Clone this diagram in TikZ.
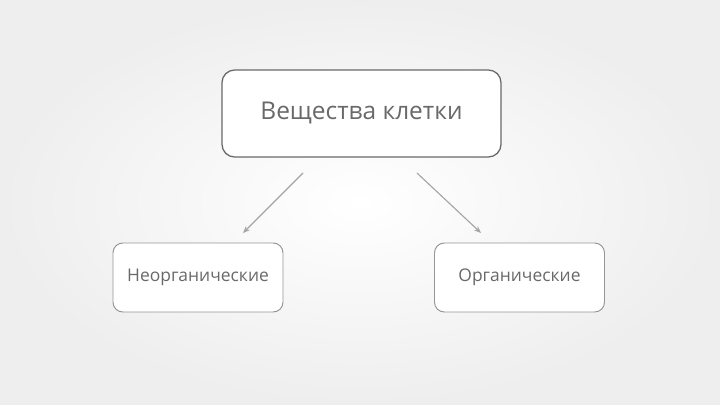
\documentclass[tikz,border=0pt]{standalone}
\usepackage{fontspec}
\setmainfont{Open Sans}
\usetikzlibrary{arrows.meta}
\pgfdeclarelayer{bglayer}
\pgfdeclarelayer{edgelayer}
\pgfdeclarelayer{nodelayer}
\pgfsetlayers{bglayer,edgelayer,nodelayer,main}
\definecolor{boxline}{RGB}{105,105,105}
\definecolor{subline}{RGB}{150,150,150}
\definecolor{txt}{RGB}{105,105,105}
\definecolor{arrline}{RGB}{165,165,165}
\definecolor{bgrim}{RGB}{238,238,238}
\tikzstyle{none}=[inner sep=0pt]
\tikzstyle{mainbox}=[rectangle,rounded corners=9pt,draw=boxline,line width=0.9pt,fill=white,minimum width=6.975cm,minimum height=2.175cm,text=txt,font=\fontsize{17.4}{21}\selectfont]
\tikzstyle{subbox}=[rectangle,rounded corners=7pt,draw=subline,line width=0.7pt,fill=white,minimum width=4.25cm,minimum height=1.725cm,text=txt,font=\fontsize{12.4}{15}\selectfont]
\tikzstyle{arr}=[draw=arrline,line width=0.8pt,-{Stealth[length=5pt,width=4pt]}]

\begin{document}
\begin{tikzpicture}
	\begin{pgfonlayer}{bglayer}
		\shade[inner color=white,outer color=bgrim] (0,0) rectangle (18,10.125);
	\end{pgfonlayer}
	\useasboundingbox (0,0) rectangle (18,10.125);
	\begin{pgfonlayer}{nodelayer}
		\node [style=mainbox] (0) at (9.0375, 7.2875) {Вещества клетки};
		\node [style=subbox] (1) at (4.95, 3.1875) {Неорганические};
		\node [style=subbox] (2) at (12.9875, 3.1875) {Органические};
		\node [style=none] (3) at (7.575, 5.8) {};
		\node [style=none] (4) at (6.075, 4.3) {};
		\node [style=none] (5) at (10.425, 5.8) {};
		\node [style=none] (6) at (12.025, 4.3) {};
	\end{pgfonlayer}
	\begin{pgfonlayer}{edgelayer}
		\draw [style=arr] (3.center) to (4.center);
		\draw [style=arr] (5.center) to (6.center);
	\end{pgfonlayer}
\end{tikzpicture}
\end{document}
